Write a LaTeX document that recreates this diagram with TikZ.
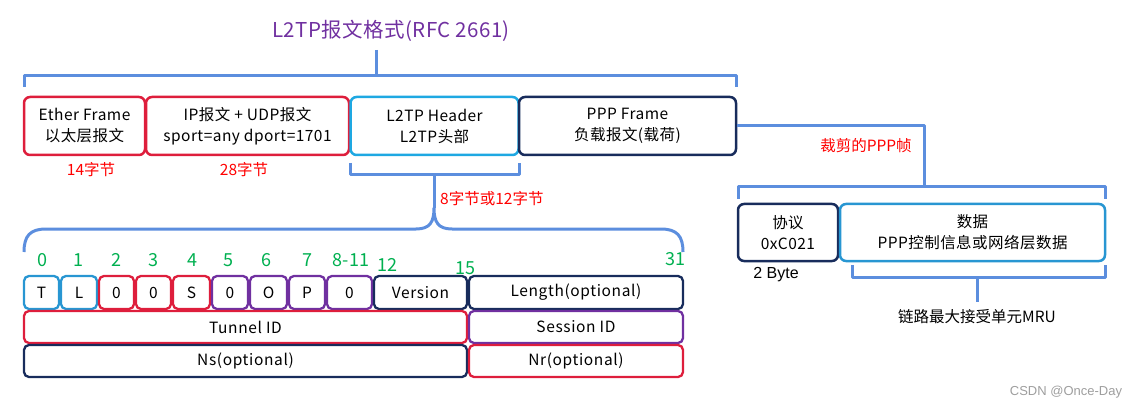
\documentclass[tikz,border=0pt]{standalone}
\usepackage{fontspec}
\setmainfont{Noto Sans CJK SC}
\newfontfamily\arialf{Liberation Sans}
\definecolor{cred}{RGB}{222,30,60}
\definecolor{ccyan}{RGB}{30,168,226}
\definecolor{cnavy}{RGB}{24,44,92}
\definecolor{cpurple}{RGB}{112,48,160}
\definecolor{cblue}{RGB}{40,150,210}
\definecolor{cbrace}{RGB}{92,142,222}
\definecolor{cgreen}{RGB}{0,176,80}
\definecolor{ctred}{RGB}{255,0,0}
\begin{document}
\begin{tikzpicture}[x=1pt,y=-1pt,
  box/.style={draw=#1, rounded corners=6pt, line width=2.5pt, inner sep=0pt, align=center, text=black, font=\fontsize{15.5}{21}\selectfont\addfontfeature{LetterSpace=3}},
  fld/.style={draw=#1, rounded corners=5pt, line width=2.3pt, inner sep=0pt, align=center, text=black, font=\fontsize{15.5}{19}\selectfont\addfontfeature{LetterSpace=4}, minimum height=33pt},
  brace/.style={draw=cbrace, line width=3pt, line join=round},
  bitnum/.style={text=cgreen, font=\fontsize{18}{20}\selectfont, inner sep=0pt},
  redlab/.style={text=ctred, font=\fontsize{15.5}{19}\selectfont, inner sep=0pt},
  blklab/.style={text=black, font=\fontsize{15.5}{19}\selectfont, inner sep=0pt}]
\useasboundingbox (0,0) rectangle (1136,409);

% title and top brace
\node[text=cpurple, font=\fontsize{20.5}{24}\selectfont\addfontfeature{LetterSpace=2}, inner sep=0pt] (title) at (391,31) {L2TP报文格式(RFC 2661)};
\coordinate (tA) at (376,50);
\coordinate (tB) at (376,76);
\coordinate (bL) at (24,87);
\coordinate (bR) at (736,87);
\draw[brace] (tA) -- (tB);
\draw[brace] (bL) |- (tB) -| (bR);

% top row
\node[box=cred, minimum width=121pt, minimum height=58pt] (ether) at (84.5,126) {Ether Frame\\以太层报文};
\node[box=cred, minimum width=203pt, minimum height=58pt] (ip) at (247.5,126) {IP报文 + UDP报文\\sport=any dport=1701};
\node[box=ccyan, minimum width=168pt, minimum height=58pt] (l2tp) at (434.5,126) {L2TP Header\\L2TP头部};
\node[box=cnavy, minimum width=217pt, minimum height=58pt] (ppp) at (627.5,126) {PPP Frame\\负载报文(载荷)};

\node[redlab] (l14) at (91,170) {14字节};
\node[redlab] (l28) at (244,170) {28字节};

% bracket under L2TP header and curly brace
\coordinate (hL) at (350,163);
\coordinate (hR) at (519,163);
\coordinate (hM) at (434,175);
\coordinate (cusp) at (434,208);
\draw[brace] (hL) |- (hM) -| (hR);
\draw[brace] (hM) -- (cusp);
\draw[brace] (24,252) .. controls (24,236) and (30,229) .. (46,229) -- (416,229)
  .. controls (430,229) and (434,222) .. (cusp)
  .. controls (434,222) and (438,229) .. (452,229) -- (661,229)
  .. controls (677,229) and (683,236) .. (683,252);
\node[redlab, anchor=west] (l812) at (440,199) {8字节或12字节};

% bit numbers
\node[bitnum] (n0) at (42,260) {0};
\node[bitnum] (n1) at (78,260) {1};
\node[bitnum] (n2) at (116,260) {2};
\node[bitnum] (n3) at (153,260) {3};
\node[bitnum] (n4) at (192,260) {4};
\node[bitnum] (n5) at (228,260) {5};
\node[bitnum] (n6) at (266,260) {6};
\node[bitnum] (n7) at (307,260) {7};
\node[bitnum] (n8) at (351,260) {8-11};
\node[bitnum] (n12) at (387,265) {12};
\node[bitnum] (n15) at (465,268) {15};
\node[bitnum] (n31) at (675,259) {31};

% header fields row 1
\node[fld=cblue, minimum width=35pt] (fT) at (41.5,292.5) {T};
\node[fld=cblue, minimum width=36pt] (fL) at (79,292.5) {L};
\node[fld=cred, minimum width=35pt] (f2) at (116.5,292.5) {0};
\node[fld=cred, minimum width=35pt] (f3) at (153.5,292.5) {0};
\node[fld=cred, minimum width=37pt] (fS) at (191.5,292.5) {S};
\node[fld=cpurple, minimum width=36pt] (f5) at (230,292.5) {0};
\node[fld=cpurple, minimum width=37pt] (fO) at (268.5,292.5) {O};
\node[fld=cpurple, minimum width=36pt] (fP) at (307,292.5) {P};
\node[fld=cpurple, minimum width=45pt] (f8) at (349.5,292.5) {0};
\node[fld=cnavy, minimum width=93pt] (fVer) at (420.5,292.5) {Version};
\node[fld=cnavy, minimum width=214pt] (fLen) at (576,292.5) {Length(optional)};
% row 2
\node[fld=cred, minimum width=443pt, minimum height=32pt] (fTun) at (245.5,327) {Tunnel ID};
\node[fld=cpurple, minimum width=214pt, minimum height=32pt] (fSes) at (576,327) {Session ID};
% row 3
\node[fld=cnavy, minimum width=443pt, minimum height=32pt] (fNs) at (245.5,361) {Ns(optional)};
\node[fld=cred, minimum width=214pt, minimum height=32pt] (fNr) at (576,361) {Nr(optional)};

% right side: trimmed PPP frame
\coordinate (pc) at (924,126);
\coordinate (pd) at (924,187);
\coordinate (qL) at (738,199);
\coordinate (qR) at (1105,199);
\draw[brace] (ppp.east) -- (pc) -- (pd);
\draw[brace] (qL) |- (pd) -| (qR);
\node[redlab] (lcut) at (866,146) {裁剪的PPP帧};

\node[box=cnavy, minimum width=100pt, minimum height=57pt] (proto) at (788,232.5) {协议\\0xC021};
\node[box=cblue, minimum width=265pt, minimum height=57pt] (data) at (972.5,232.5) {数据\\PPP控制信息或网络层数据};
\node[text=black, font=\arialf\fontsize{16}{19}\selectfont, inner sep=0pt] (l2b) at (776,275) {2 Byte};

\coordinate (rL) at (852,265);
\coordinate (rR) at (1105,265);
\coordinate (rM) at (977,277);
\coordinate (rD) at (977,302);
\draw[brace] (rL) |- (rM) -| (rR);
\draw[brace] (rM) -- (rD);
\node[blklab] (lmru) at (977,317) {链路最大接受单元MRU};

\node[text=black!38, font=\arialf\fontsize{13}{15}\selectfont, inner sep=0pt] (wm) at (1066,392) {CSDN @Once-Day};
\end{tikzpicture}
\end{document}
